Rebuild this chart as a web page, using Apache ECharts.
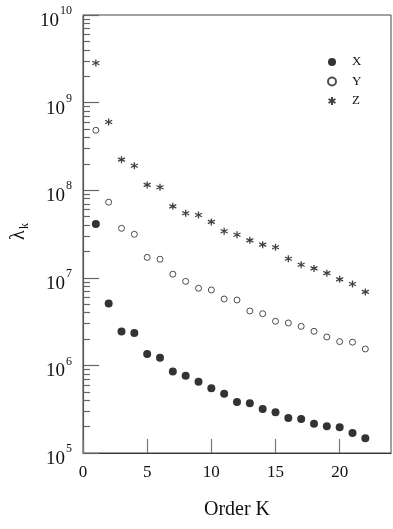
<!DOCTYPE html>
<html>
<head>
<meta charset="utf-8">
<script src="https://cdn.jsdelivr.net/npm/echarts@6/dist/echarts.min.js"></script>
<style>
html,body{margin:0;padding:0;background:#fff;}
#chart{width:393px;height:529px;}
</style>
</head>
<body>
<div id="chart"></div>
<script>
// Order K
const orderK = [1,2,3,4,5,6,7,8,9,10,11,12,13,14,15,16,17,18,19,20,21,22];
// Series values (lambda_k)
const seriesX = [4.1e7,5.1e6,2.43e6,2.34e6,1.35e6,1.22e6,8.5e5,7.6e5,6.5e5,5.5e5,4.75e5,3.82e5,3.69e5,3.18e5,2.91e5,2.51e5,2.44e5,2.16e5,2.02e5,1.97e5,1.69e5,1.47e5];
const seriesY = [4.83e8,7.3e7,3.67e7,3.14e7,1.71e7,1.63e7,1.10e7,9.1e6,7.6e6,7.26e6,5.73e6,5.58e6,4.18e6,3.89e6,3.19e6,3.05e6,2.79e6,2.45e6,2.11e6,1.87e6,1.84e6,1.54e6];
const seriesZ = [2.83e9,6.0e8,2.23e8,1.9e8,1.15e8,1.08e8,6.55e7,5.45e7,5.21e7,4.34e7,3.40e7,3.10e7,2.68e7,2.39e7,2.23e7,1.65e7,1.41e7,1.28e7,1.13e7,9.6e6,8.5e6,6.9e6];
const seriesNames = ['X','Y','Z'];
// Tick labels
const xTicks = [0,5,10,15,20];
const yMajorTicks = [1e5,1e6,1e7,1e8,1e9,1e10];
const yExponents = ['5','6','7','8','9','10'];
const yMinorTicks = [];
[1e5,1e6,1e7,1e8,1e9].forEach(d => { for (let m = 2; m <= 9; m++) yMinorTicks.push(d*m); });
const xTitle = 'Order K';
const yTitleMain = 'λ';
const yTitleSub = 'k';

const serif = '"Liberation Serif","Times New Roman",serif';
const asterisk = 'path://M0,-10L0,10M-8.66,-5L8.66,5M-8.66,5L8.66,-5';

const chart = echarts.init(document.getElementById('chart'), null, {renderer:'canvas'});
const pairs = arr => orderK.map((k,i) => [k, arr[i]]);

chart.setOption({
  animation: false,
  backgroundColor: '#fff',
  textStyle: {fontFamily: serif, color: '#111'},
  grid: {left: 83, right: 2, top: 15, bottom: 76, show: true, borderColor: '#444', borderWidth: 1},
  graphic: [{
    type: 'group', x: 19, y: 240, rotation: Math.PI / 2,
    children: [{
      type: 'text', x: 0, y: 0,
      style: {text: yTitleMain, font: '20px ' + serif, fill: '#111', align: 'left', verticalAlign: 'middle'}
    }, {
      type: 'text', x: 11, y: 6,
      style: {text: yTitleSub, font: '12px ' + serif, fill: '#111', align: 'left', verticalAlign: 'middle'}
    }]
  }],
  legend: {
    orient: 'vertical', left: 322, top: 50,
    itemWidth: 30, itemHeight: 8, itemGap: 5.5,
    textStyle: {fontFamily: serif, fontSize: 13, color: '#111', lineHeight: 14},
    data: seriesNames,
    selectedMode: false
  },
  xAxis: {
    type: 'value', min: 0, max: 24,
    name: xTitle, nameLocation: 'middle', nameGap: 47,
    nameTextStyle: {fontFamily: serif, fontSize: 20, color: '#111'},
    axisLine: {show: true, lineStyle: {color: '#333', width: 1.2}},
    axisTick: {show: true, inside: true, length: 14, customValues: xTicks, lineStyle: {color: '#777', width: 1.2}},
    axisLabel: {customValues: xTicks, fontFamily: serif, fontSize: 17, color: '#111', margin: 11},
    splitLine: {show: false}
  },
  yAxis: [{
    type: 'log', logBase: 10, min: 1e5, max: 1e10,
    axisLine: {show: true, lineStyle: {color: '#555', width: 1.2}},
    axisTick: {show: true, inside: true, length: 16, customValues: yMajorTicks, lineStyle: {color: '#666', width: 1.2}},
    axisLabel: {
      customValues: yMajorTicks, margin: 11,
      formatter: v => {
        const idx = yMajorTicks.findIndex(t => Math.abs(t - v) / t < 1e-6);
        return '{b|10}{e|' + yExponents[idx] + '}';
      },
      rich: {
        b: {fontFamily: serif, fontSize: 19, color: '#111', padding: [12,0,0,0]},
        e: {fontFamily: serif, fontSize: 12, color: '#111', padding: [0,0,8,1]}
      }
    },
    splitLine: {show: false}
  }, {
    type: 'log', logBase: 10, min: 1e5, max: 1e10, position: 'left',
    axisLine: {show: false},
    axisTick: {show: true, inside: true, length: 7, customValues: yMinorTicks, lineStyle: {color: '#666', width: 1.2}},
    axisLabel: {show: false},
    splitLine: {show: false}
  }],
  series: [{
    name: 'X', type: 'scatter', data: pairs(seriesX),
    symbol: 'circle', symbolSize: 8,
    itemStyle: {color: '#000'}
  }, {
    name: 'Y', type: 'scatter', data: pairs(seriesY),
    symbol: 'circle', symbolSize: 6,
    itemStyle: {color: '#fff', borderColor: '#222', borderWidth: 1}
  }, {
    name: 'Z', type: 'scatter', data: pairs(seriesZ),
    symbol: asterisk, symbolSize: 7,
    itemStyle: {color: 'rgba(0,0,0,0)', borderColor: '#111', borderWidth: 1.3}
  }]
});
</script>
</body>
</html>
